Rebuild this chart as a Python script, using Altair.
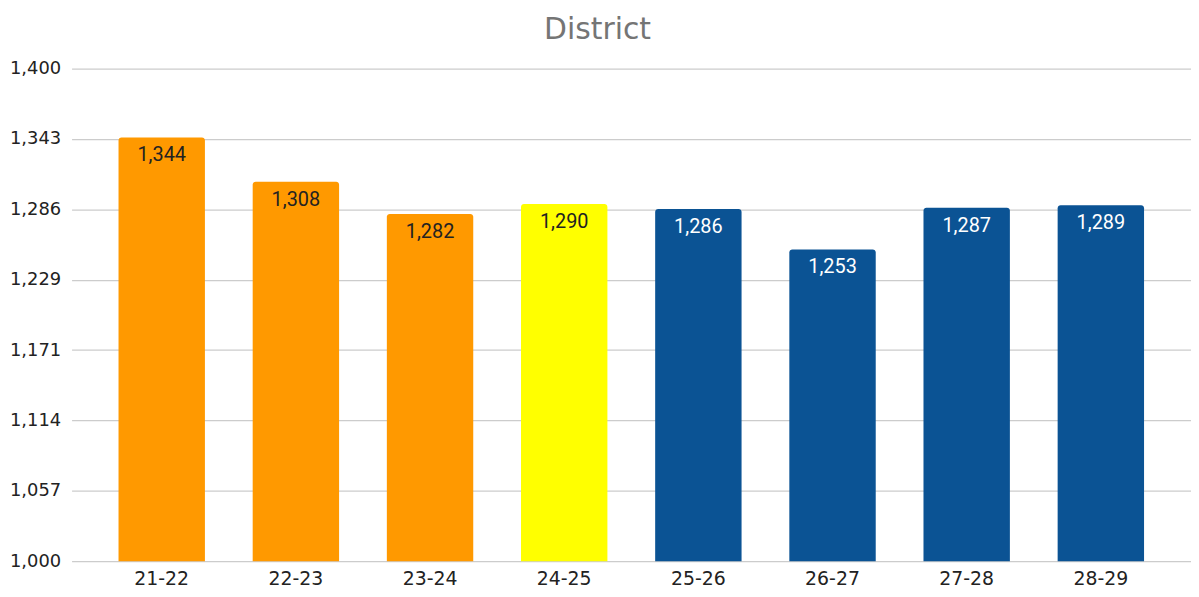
import altair as alt
import pandas as pd

years = ["21-22", "22-23", "23-24", "24-25", "25-26", "26-27", "27-28", "28-29"]
values = [1344, 1308, 1282, 1290, 1286, 1253, 1287, 1289]
colors = ["#FF9900", "#FF9900", "#FF9900", "#FFFF00", "#0B5394", "#0B5394", "#0B5394", "#0B5394"]
label_colors = ["#222222", "#222222", "#222222", "#222222", "#FFFFFF", "#FFFFFF", "#FFFFFF", "#FFFFFF"]
y_ticks = [1000 + i * 400 / 7 for i in range(8)]

df = pd.DataFrame({"year": years, "value": values, "color": colors, "lc": label_colors})

x = alt.X("year:N", sort=years, title=None,
          scale=alt.Scale(paddingInner=0.356, paddingOuter=0.35),
          axis=alt.Axis(labelAngle=0, labelFont="DejaVu Sans", labelFontSize=19,
                        labelColor="#222222", ticks=False, domain=False, labelPadding=8))
y = alt.Y("value:Q", title=None,
          scale=alt.Scale(domain=[1000, 1400], zero=False, nice=False),
          axis=alt.Axis(values=y_ticks, format=",.0f", labelFont="DejaVu Sans",
                        labelFontSize=18, labelColor="#222222", ticks=False, domain=False,
                        gridColor="#CCCCCC", gridWidth=1.2, labelPadding=11))

bars = alt.Chart(df).mark_bar(cornerRadiusTopLeft=3, cornerRadiusTopRight=3).encode(
    x=x, y=y, y2=alt.datum(1000),
    color=alt.Color("color:N", scale=None),
)
labels = alt.Chart(df).mark_text(baseline="top", dy=8, font="Roboto", fontSize=20).encode(
    x=alt.X("year:N", sort=years),
    y=alt.Y("value:Q"),
    text=alt.Text("value:Q", format=",.0f"),
    color=alt.Color("lc:N", scale=None),
)

chart = alt.layer(bars, labels).properties(
    width=1127, height=496,
    title=alt.TitleParams("District", font="DejaVu Sans", fontSize=30, fontWeight="normal",
                          color="#757575", anchor="middle", offset=15, dx=-34),
    autosize=alt.AutoSizeParams(type="none"),
    padding={"left": 64, "top": 59, "right": 0, "bottom": 26},
).configure_view(stroke=None)

chart.save("out.html", embed_options={"renderer": "svg", "actions": False})
